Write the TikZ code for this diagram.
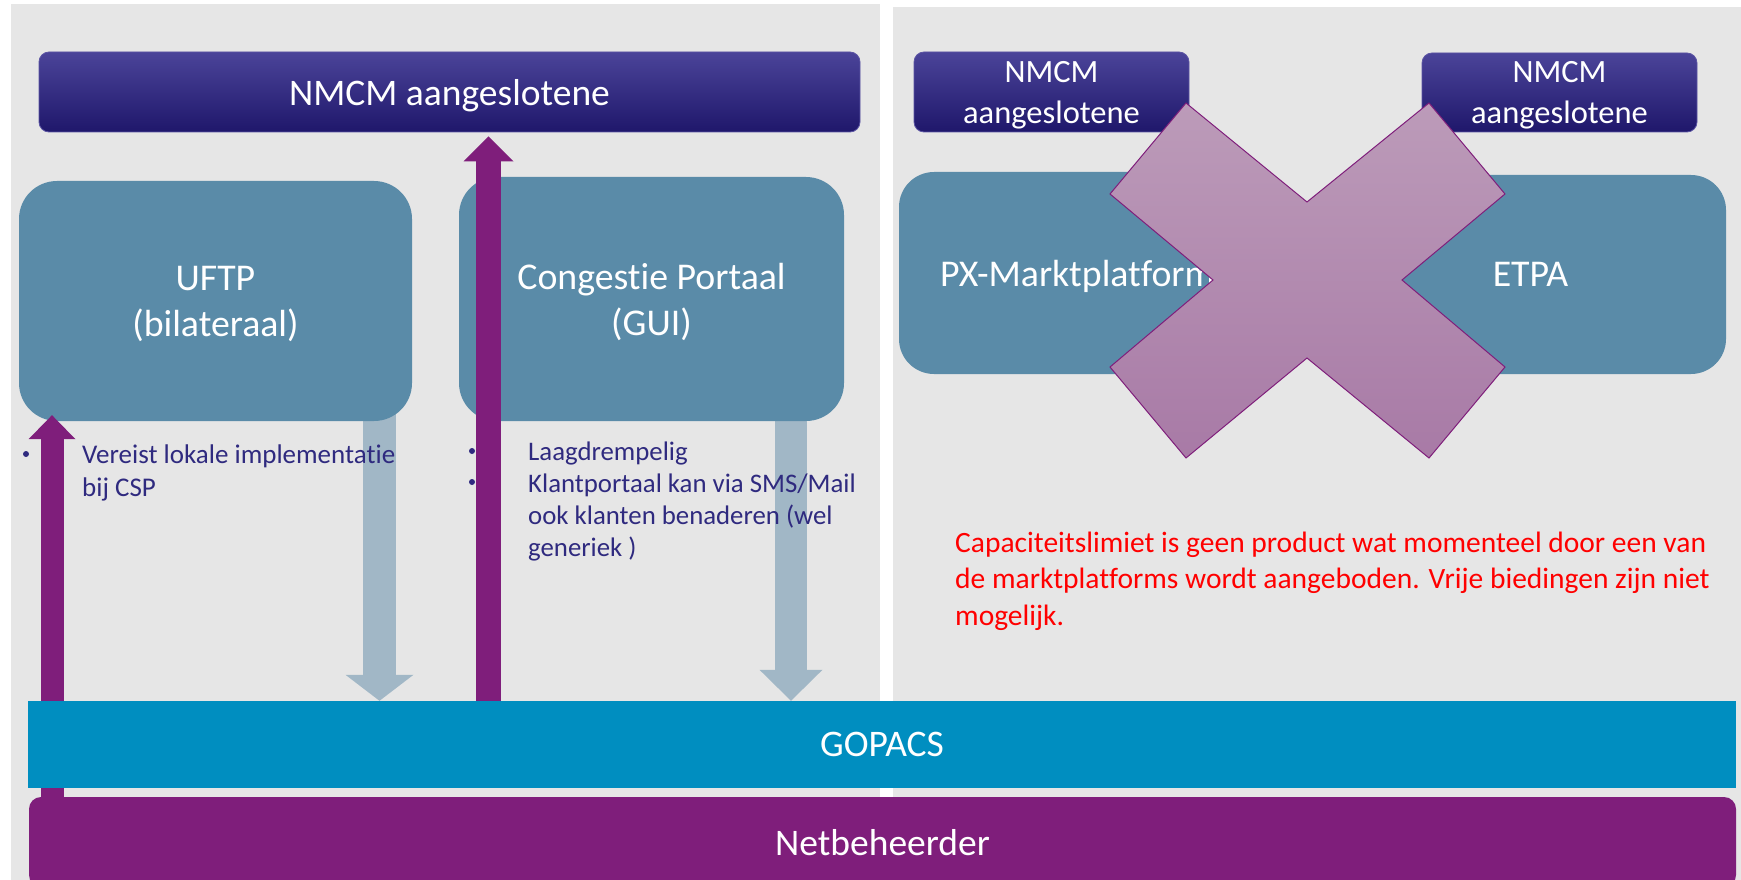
\documentclass[tikz,border=0pt]{standalone}
\usepackage{fontspec}
\setmainfont{Carlito}[Ligatures={NoCommon}]
\usetikzlibrary{arrows.meta,calc}
\definecolor{panelgray}{HTML}{E6E6E6}
\definecolor{boxteal}{HTML}{5A8BA8}
\definecolor{navytop}{HTML}{4B4499}
\definecolor{navybot}{HTML}{1F176B}
\definecolor{navyedge}{HTML}{5B54A3}
\definecolor{plum}{HTML}{7F1E7B}
\definecolor{paleblue}{HTML}{A1B7C6}
\definecolor{gopacsblue}{HTML}{008EC0}
\definecolor{textblue}{HTML}{2F2A7F}
\definecolor{xtop}{HTML}{BC9BB9}
\definecolor{xbot}{HTML}{A87AA6}
\pgfdeclarelayer{back}
\pgfdeclarelayer{pale}
\pgfdeclarelayer{purp}
\pgfdeclarelayer{front}
\pgfsetlayers{back,pale,main,purp,front}
\tikzset{
  panel/.style={fill=panelgray, draw=none},
  nmcmbox/.style={rounded corners=10pt, top color=navytop, bottom color=navybot, draw=navyedge, line width=0.8pt, text=white, inner sep=0pt, align=center, text depth=0pt},
  tealbox/.style={rounded corners=38pt, fill=boxteal, text=white, inner sep=0pt, align=center, text depth=0pt, font=\fontsize{37.8}{46}\selectfont},
  bulletdot/.style={circle, fill=textblue, inner sep=0pt, minimum size=6pt},
  bullettext/.style={text=textblue, inner sep=0pt, align=left, anchor=base west},
  palearrowA/.style={color=paleblue, line width=33pt, -{Triangle[width=68pt,length=26pt,line width=0pt]}},
  palearrowB/.style={color=paleblue, line width=32pt, -{Triangle[width=63pt,length=31pt,line width=0pt]}},
  plumarrowA/.style={color=plum, line width=23pt, -{Triangle[width=47pt,length=24pt,line width=0pt]}},
  plumarrowB/.style={color=plum, line width=25pt, -{Triangle[width=50pt,length=25pt,line width=0pt]}},
  bar/.style={inner sep=0pt, text=white, text depth=0pt, font=\fontsize{37.5}{43}\selectfont},
  crossmark/.style={top color=xtop, bottom color=xbot, draw=plum, line width=1pt, line join=miter}
}
\begin{document}
\begin{tikzpicture}[x=1pt,y=-1pt]
\useasboundingbox (0,0) rectangle (1741,880);
\begin{pgfonlayer}{back}
\fill[white] (0,0) rectangle (1741,880);
\fill[panel] (11,4) rectangle (880,880);
\fill[panel] (893,7) rectangle (1741,880);
\end{pgfonlayer}

% top boxes
\node[nmcmbox, minimum width=821pt, minimum height=80pt, font=\fontsize{37.5}{43}\selectfont] (nmcm) at (449.5,92) {NMCM aangeslotene};
\node[nmcmbox, minimum width=275pt, minimum height=80pt, font=\fontsize{32.5}{41}\selectfont] (nmcmpx) at (1051.5,92) {NMCM\\aangeslotene};
\node[nmcmbox, minimum width=275pt, minimum height=79pt, font=\fontsize{32.5}{41}\selectfont] (nmcmetpa) at (1559.5,92.5) {NMCM\\aangeslotene};

% platform boxes
\node[tealbox, minimum width=393pt, minimum height=240pt] (uftp) at (215.5,301) {UFTP\\(bilateraal)};
\node[tealbox, minimum width=385pt, minimum height=244pt] (cp) at (651.5,299) {Congestie Portaal\\(GUI)};
\node[tealbox, rounded corners=35pt, minimum width=346pt, minimum height=202pt, text width=290pt, align=left] (px) at (1072,273) {\hspace*{13pt}PX-Marktplatform};
\node[tealbox, rounded corners=35pt, minimum width=391pt, minimum height=199pt] (etpa) at (1530.5,274.5) {ETPA};

% bullet texts (base anchor = baseline of last line)
\node[bulletdot] (d1) at (26,454) {};
\node[bullettext, font=\fontsize{27}{33}\selectfont] (t1) at (82,496) {Vereist lokale implementatie\\bij CSP};
\node[bulletdot] (d2) at (472,451) {};
\node[bulletdot] (d3) at (472,482) {};
\node[bullettext, font=\fontsize{26.8}{31.7}\selectfont] (t2) at (528,556) {Laagdrempelig\\Klantportaal kan via SMS/Mail\\ook klanten benaderen (wel\\generiek )};

% red note
\node[text=red, inner sep=0pt, align=left, anchor=base west, font=\fontsize{29.5}{36.5}\selectfont] (note) at (955,625) {Capaciteitslimiet is geen product wat momenteel door een van\\de marktplatforms wordt aangeboden. Vrije biedingen zijn niet\\mogelijk.};

% bottom bars and cross
\begin{pgfonlayer}{front}
\node[bar, fill=gopacsblue, minimum width=1708pt, minimum height=87pt] (gopacs) at (882,744.5) {GOPACS};
\node[bar, fill=plum, rounded corners=12pt, minimum width=1707pt, minimum height=90pt] (netb) at (882.5,842) {Netbeheerder};
\draw[crossmark] (1186,103) -- (1307,202) -- (1429,103) -- (1505,194) -- (1402,280) -- (1505,367) -- (1429,458) -- (1307,358) -- (1186,458) -- (1110,367) -- (1213,280) -- (1110,194) -- cycle;
\end{pgfonlayer}

% arrow x positions
\coordinate (xl) at (52,0);
\coordinate (xm) at (488.5,0);
\coordinate (xb1) at (379.5,0);
\coordinate (xb2) at (791,0);

\begin{pgfonlayer}{pale}
\draw[palearrowA] ($(xb1 |- uftp.south)+(0,-20)$) -- (xb1 |- gopacs.north);
\draw[palearrowB] ($(xb2 |- cp.south)+(0,-20)$) -- (xb2 |- gopacs.north);
\end{pgfonlayer}

\begin{pgfonlayer}{purp}
\draw[plumarrowA] (xl |- netb.north) -- ($(xl |- uftp.south)+(0,-6)$);
\draw[plumarrowB] (xm |- gopacs.north) -- ($(xm |- nmcm.south)+(0,4)$);
\end{pgfonlayer}
\end{tikzpicture}
\end{document}
